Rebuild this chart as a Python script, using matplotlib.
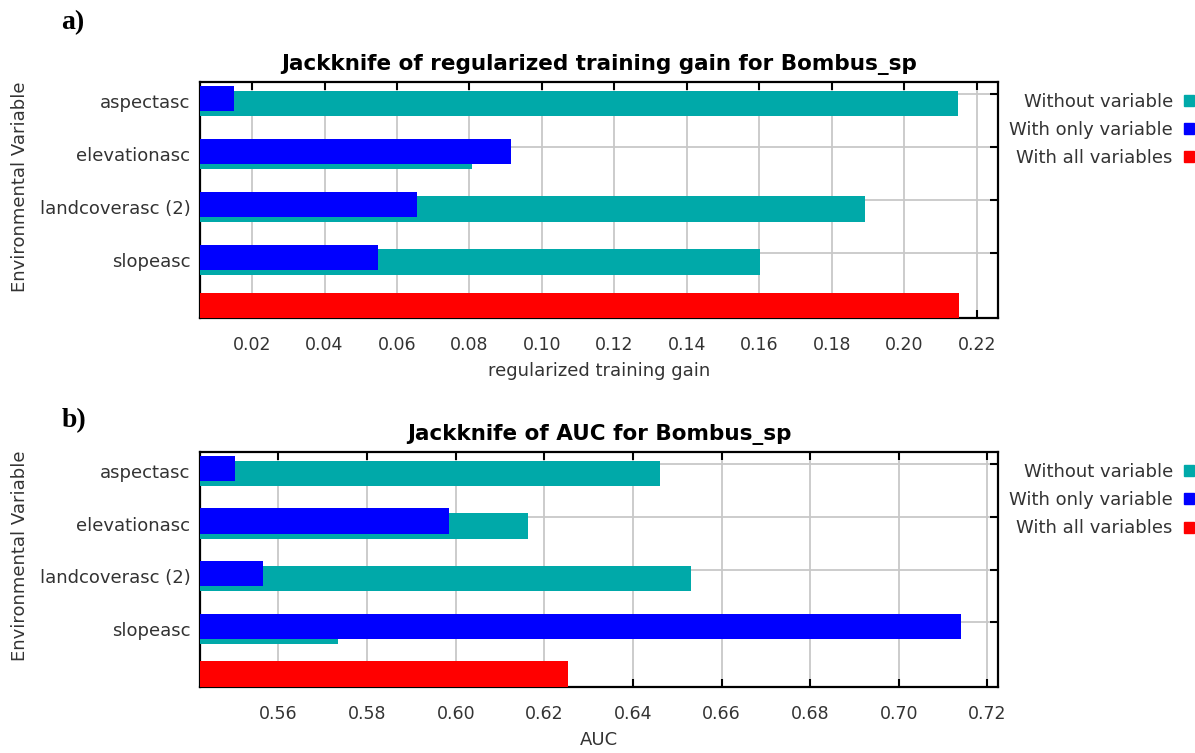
"""
Maxent jackknife charts for Bombus_sp:
  a) regularized training gain
  b) AUC
"""

import matplotlib
matplotlib.use("Agg")
import matplotlib.pyplot as plt
import matplotlib.patches as mpatches

VARIABLES = ["aspectasc", "elevationasc", "landcoverasc (2)", "slopeasc"]

GAIN_WITHOUT = [0.2149, 0.0807, 0.1892, 0.1601]
GAIN_ONLY = [0.0150, 0.0915, 0.0655, 0.0548]
GAIN_ALL = 0.2152
GAIN_TICKS = [0.02, 0.04, 0.06, 0.08, 0.10, 0.12, 0.14, 0.16, 0.18, 0.20, 0.22]

AUC_WITHOUT = [0.6461, 0.6164, 0.6531, 0.5734]
AUC_ONLY = [0.5501, 0.5985, 0.5566, 0.7140]
AUC_ALL = 0.6253
AUC_TICKS = [0.56, 0.58, 0.60, 0.62, 0.64, 0.66, 0.68, 0.70, 0.72]

TEAL = "#00a9a9"
BLUE = "#0000ff"
RED = "#ff0000"
GRID = "#c8c8c8"
TEXT = "#333333"

# layout of a category row (in units of row spacing)
BAR_H = 0.48
SHIFT = 0.047
GRID_SHIFT = -0.123
Y_TOP = -0.354
Y_BOTTOM = 4.10

plt.rcParams["font.family"] = ["DejaVu Sans"]


def jackknife_panel(ax, without, only, allvars, ticks, xlim, title, xlabel):
    pos = list(range(len(VARIABLES)))
    ax.barh([p + SHIFT for p in pos], without, height=BAR_H, color=TEAL, zorder=3)
    ax.barh([p - SHIFT for p in pos], only, height=BAR_H, color=BLUE, zorder=4)
    ax.barh([Y_BOTTOM - BAR_H / 2], [allvars], height=BAR_H, color=RED, zorder=3)

    ax.set_xlim(*xlim)
    ax.set_ylim(Y_BOTTOM, Y_TOP)

    ax.set_xticks(ticks)
    ax.set_xticklabels([f"{t:.2f}" for t in ticks])
    ax.tick_params(axis="x", which="major", direction="in", top=True, bottom=True,
                   length=6, width=1.5, pad=13, labelsize=12.5, labelcolor=TEXT)

    ax.set_yticks(pos)
    ax.set_yticklabels(VARIABLES)
    ax.tick_params(axis="y", which="major", length=0, pad=7, labelsize=13, labelcolor=TEXT)
    ax.set_yticks([p + GRID_SHIFT for p in pos], minor=True)
    ax.tick_params(axis="y", which="minor", left=False, right=True, direction="in",
                   length=6, width=1.5)

    ax.grid(axis="x", which="major", color=GRID, linewidth=1.3)
    ax.grid(axis="y", which="minor", color=GRID, linewidth=1.3)
    ax.set_axisbelow(True)

    for sp in ax.spines.values():
        sp.set_linewidth(1.6)
        sp.set_color("black")

    ax.set_title(title, fontsize=15.5, fontweight="bold", pad=9)
    ax.set_xlabel(xlabel, fontsize=13, color=TEXT, labelpad=6)
    ax.set_ylabel("Environmental Variable", fontsize=13, color=TEXT)
    ax.yaxis.set_label_coords(-0.2143, 0.557)

    handles = [
        mpatches.Patch(color=TEAL, label="Without variable"),
        mpatches.Patch(color=BLUE, label="With only variable"),
        mpatches.Patch(color=RED, label="With all variables"),
    ]
    ax.legend(handles=handles, loc="upper right", bbox_to_anchor=(1.245, 0.955),
              frameon=False, markerfirst=False, fontsize=13, borderaxespad=0,
              borderpad=0, handlelength=0.55, handleheight=0.55,
              handletextpad=0.6, labelspacing=0.57, labelcolor=TEXT)


fig = plt.figure(figsize=(11.95, 7.53), dpi=100)
ax1 = fig.add_axes([0.1674, 0.5777, 0.6678, 0.3134])
ax2 = fig.add_axes([0.1674, 0.0880, 0.6678, 0.3113])

jackknife_panel(ax1, GAIN_WITHOUT, GAIN_ONLY, GAIN_ALL, GAIN_TICKS, (0.00565, 0.2259),
                "Jackknife of regularized training gain for Bombus_sp",
                "regularized training gain")
jackknife_panel(ax2, AUC_WITHOUT, AUC_ONLY, AUC_ALL, AUC_TICKS, (0.5423, 0.7224),
                "Jackknife of AUC for Bombus_sp", "AUC")

fig.text(0.051, 0.970, "a)", fontsize=20, fontweight="bold",
         family="Liberation Serif", va="center")
fig.text(0.052, 0.441, "b)", fontsize=20, fontweight="bold",
         family="Liberation Serif", va="center")

fig.savefig("out.png", dpi=100)
